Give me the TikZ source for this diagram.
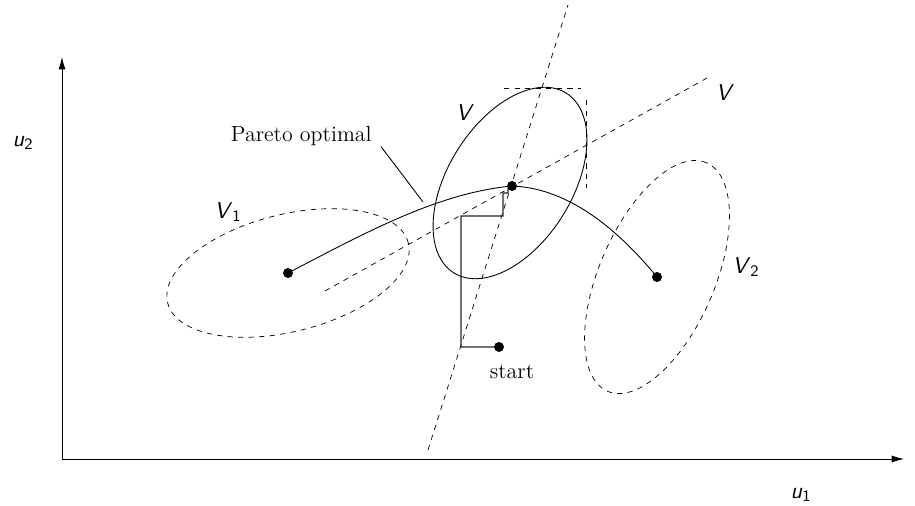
\documentclass[tikz,border=0pt]{standalone}
\usepackage{amsmath, amssymb}
\usepackage{tikz}
\usetikzlibrary{arrows.meta}

\newcommand{\sflab}[2]{\textsf{\textit{#1}}\ensuremath{_{\textsf{#2}}}}

\begin{document}
\begin{tikzpicture}[x=0.02cm, y=0.02cm,
    sflabel/.style={font=\fontsize{13}{15}\selectfont},
    txtlabel/.style={font=\fontsize{12.5}{15}\selectfont},
    steppath/.style={black!85, line width=0.65pt}]
    \useasboundingbox (0,0) rectangle (915,506);
    % Axis
    \coordinate (O) at (62,47);
    \coordinate (ytop) at (62,449);
    \coordinate (xend) at (904,47);
    \draw[line width=0.5pt, -{Latex[length=7pt,width=4pt]}] (O) -- (ytop);
    \draw[line width=0.5pt, -{Latex[length=7pt,width=4pt]}] (O) -- (xend);
    \node[sflabel] (u2) at (23,363) {\sflab{u}{2}};
    \node[sflabel] (u1) at (801,11) {\sflab{u}{1}};
    % Points
    \coordinate (A) at (288,233);
    \coordinate (B) at (512,320);
    \coordinate (C) at (657,229);
    \coordinate (S) at (499,159);
    % Regions V1, V2 and V
    \draw[dashed, rotate around={14:(A)}] (A) ellipse (124 and 58.6);
    \draw[dashed, rotate around={66.6:(C)}] (C) ellipse (124.5 and 57.7);
    \draw[line width=0.5pt, rotate around={58:(510,323)}] (510,323) ellipse (106 and 62);
    \node[sflabel] (V1) at (228,294) {\sflab{V}{1}};
    \node[sflabel] (V2) at (746,239) {\sflab{V}{2}};
    \node[sflabel] (Vell) at (465,393) {\textsf{\textit{V}}};
    \node[sflabel] (Vline) at (725,413) {\textsf{\textit{V}}};
    % Lines through the optimum
    \draw[dashed] (428,56) -- (568,501);
    \draw[dashed] (325,215) -- (707,428);
    \draw[dashed] (504,418) -- (581,418);
    \draw[dashed] (586,406) -- (586,318);
    % Pareto optimal curve
    \draw[line width=0.5pt] (A) .. controls (363,272) and (437,313) .. (B)
        .. controls (562,318) and (610,286) .. (C);
    \node[txtlabel, anchor=base east, inner xsep=5.1pt, inner ysep=0pt]
        (pareto) at (381,364) {Pareto optimal};
    \coordinate (pp) at (423,304);
    \draw[line width=0.5pt] (pareto.south east) -- (pp);
    % Search path from start
    \draw[steppath] (S) -- (461,159) -- (461,290) -- (503,290) -- (503,313)
        -- (508,313) -- (508,317) -- (B);
    \node[txtlabel] (startlab) at (512,134) {start};
    % Dots
    \foreach \p in {A,B,C,S}
        \fill (\p) circle (5);
\end{tikzpicture}
\end{document}
